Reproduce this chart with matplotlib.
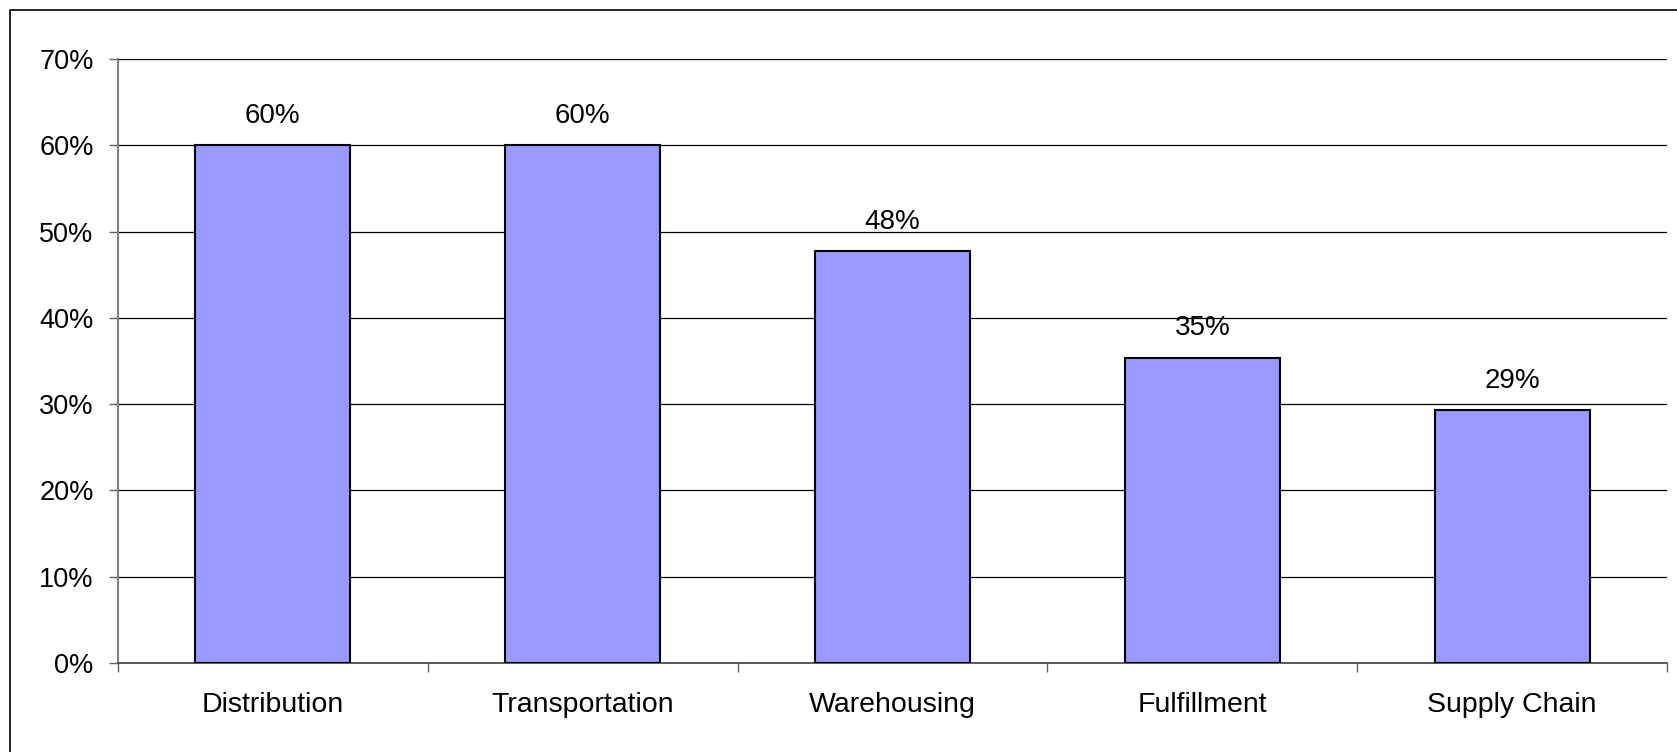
import matplotlib.pyplot as plt
from matplotlib.patches import Rectangle
from matplotlib.ticker import FuncFormatter

plt.rcParams['font.family'] = ['Liberation Sans', 'DejaVu Sans']

categories = ['Distribution', 'Transportation', 'Warehousing', 'Fulfillment', 'Supply Chain']
values = [0.600, 0.600, 0.477, 0.354, 0.293]
yticks = [0.0, 0.1, 0.2, 0.3, 0.4, 0.5, 0.6, 0.7]

W, H = 1677, 752
fig = plt.figure(figsize=(W / 100, H / 100), dpi=100)

# outer chart border (only top and left visible, the rest runs off the image)
fig.add_artist(Rectangle((10 / W, -0.2), 1.5, (H - 10) / H + 0.2, transform=fig.transFigure,
                         fill=False, edgecolor='black', linewidth=1.2))

ax = fig.add_axes([118 / W, 89 / H, 1549 / W, 604 / H])
x = range(len(categories))
ax.bar(x, values, width=0.5, color='#9999FF', edgecolor='black', linewidth=1.5, zorder=3)

for xi, v in zip(x, values):
    ax.text(xi, v + 0.019, '{:.0%}'.format(v), ha='center', va='bottom', fontsize=20)

ax.set_xlim(-0.5, len(categories) - 0.5)
ax.set_ylim(0, 0.7)
ax.set_yticks(yticks)
ax.yaxis.set_major_formatter(FuncFormatter(lambda v, p: '{:.0f}%'.format(v * 100)))
ax.grid(axis='y', color='black', linewidth=0.9, zorder=0)

ax.set_xticks(list(x))
ax.set_xticklabels(categories)
ax.set_xticks([i - 0.5 for i in range(len(categories) + 1)], minor=True)
ax.tick_params(axis='x', which='major', length=0, pad=21, labelsize=20.5)
ax.tick_params(axis='x', which='minor', length=6.5, color='#606060', width=1)
ax.tick_params(axis='y', length=6.5, color='#606060', width=1, pad=11, labelsize=19.5)

ax.spines['top'].set_visible(False)
ax.spines['right'].set_visible(False)
ax.spines['left'].set_color('#808080')
ax.spines['left'].set_linewidth(1.5)
ax.spines['bottom'].set_color('#404040')
ax.spines['bottom'].set_linewidth(1.2)

fig.savefig('out.png', dpi=100)
